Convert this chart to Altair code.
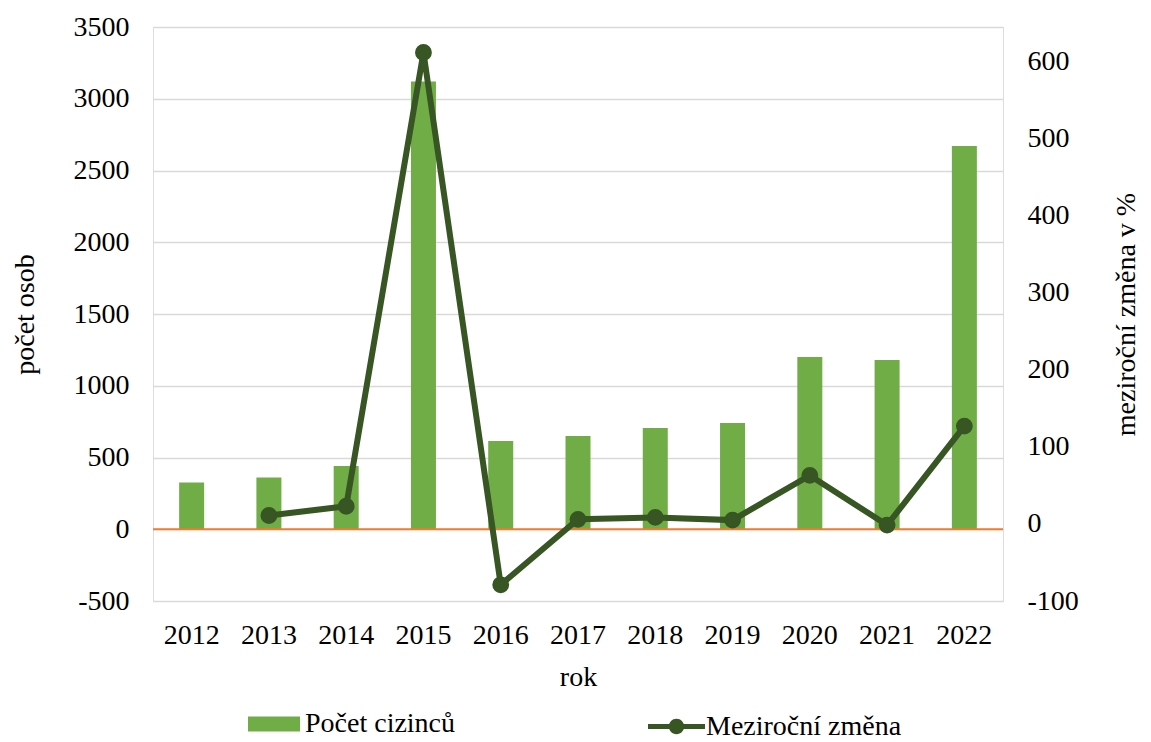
import altair as alt
import pandas as pd

years = ["2012", "2013", "2014", "2015", "2016", "2017", "2018", "2019", "2020", "2021", "2022"]
counts = [325, 360, 440, 3120, 615, 650, 705, 740, 1200, 1180, 2670]
changes = [None, 11, 23, 612, -79, 6, 8.5, 5, 63, -1.5, 127]

df = pd.DataFrame({"rok": years, "pocet": counts, "zmena": changes})
df["s1"] = "Počet cizinců"
df["s2"] = "Meziroční změna"

FONT = "Liberation Serif"
FS = 28
BAR = "#70AD47"
LINE = "#375623"

common = dict(labelFontSize=FS, titleFontSize=FS, labelFont=FONT, titleFont=FONT,
              labelColor="#000", titleColor="#000", titleFontWeight="normal")

x = alt.X("rok:N", title="rok", sort=years,
          axis=alt.Axis(labelAngle=0, ticks=False, domain=False, labelPadding=20,
                        titlePadding=14, **common),
          scale=alt.Scale(paddingInner=0, paddingOuter=0))

left_scale = alt.Scale(domain=[-500, 3500], nice=False)
left_axis = alt.Axis(values=list(range(-500, 3501, 500)), ticks=False, domain=False,
                     grid=True, gridColor="#D9D9D9", gridWidth=1.5,
                     labelPadding=24, titlePadding=34, labelExpr="'' + datum.value",
                     **common)

bars = alt.Chart(df).mark_bar(size=25, color=BAR).encode(
    x=x,
    y=alt.Y("pocet:Q", title="počet osob", scale=left_scale, axis=left_axis),
    fill=alt.Fill("s1:N", scale=alt.Scale(domain=["Počet cizinců"], range=[BAR]),
                  legend=alt.Legend(title=None, orient="none", legendX=95, legendY=671,
                                    symbolType="M -1 -0.29 L 1 -0.29 L 1 0.29 L -1 0.29 Z",
                                    symbolSize=2704, labelLimit=500,
                                    labelFontSize=FS, labelFont=FONT, labelColor="#000",
                                    labelOffset=5, symbolStrokeWidth=0)),
)

zero = alt.Chart(pd.DataFrame({"z": [0]})).mark_rule(color="#ED7D31", strokeWidth=2).encode(
    y=alt.Y("z:Q", title="počet osob", scale=left_scale, axis=left_axis)
)

left = alt.layer(bars, zero)

sym = ("M -1 -0.09 L 1 -0.09 L 1 0.09 L -1 0.09 Z "
       "M -0.27 0 A 0.27 0.27 0 1 1 0.27 0 A 0.27 0.27 0 1 1 -0.27 0 Z")

line = alt.Chart(df).transform_filter("datum.zmena != null").mark_line(
    strokeWidth=6, point=alt.OverlayMarkDef(size=220, filled=True, color=LINE)
).encode(
    x=x,
    y=alt.Y("zmena:Q", title="meziroční změna v %",
            scale=alt.Scale(domain=[-100, 645], nice=False),
            axis=alt.Axis(orient="right", values=list(range(-100, 601, 100)), ticks=False,
                          domain=False, grid=False, labelPadding=24, titlePadding=62,
                          titleAngle=270, labelExpr="'' + datum.value", **common)),
    stroke=alt.Stroke("s2:N", scale=alt.Scale(domain=["Meziroční změna"], range=[LINE]),
                      legend=alt.Legend(title=None, orient="none", legendX=495, legendY=671,
                                        symbolType=sym, symbolSize=3249,
                                        symbolFillColor=LINE, symbolStrokeWidth=0,
                                        labelLimit=500, labelFontSize=FS, labelFont=FONT,
                                        labelColor="#000", labelOffset=1)),
)

chart = alt.layer(left, line).resolve_scale(y="independent", fill="independent",
                                             stroke="independent").properties(
    width=850, height=574,
    autosize=alt.AutoSizeParams(type="none"),
    padding={"left": 145, "top": 19, "right": 140, "bottom": 141},
).configure_view(strokeWidth=0, strokeOpacity=0).configure(background="white")

chart.save("out.html", embed_options={"renderer": "svg", "actions": False})
